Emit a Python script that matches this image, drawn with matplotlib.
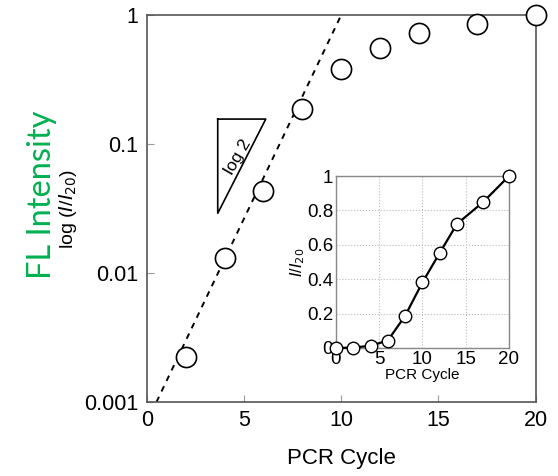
import numpy as np
import matplotlib
matplotlib.use("Agg")
import matplotlib.pyplot as plt
from matplotlib.ticker import FixedLocator, NullLocator

plt.rcParams['font.family'] = ['Liberation Sans', 'DejaVu Sans']

# data
cycle = [2, 4, 6, 8, 10, 12, 14, 17, 20]
rel_int = [0.00223, 0.0131, 0.0432, 0.187, 0.381, 0.558, 0.722, 0.848, 1.0]
inset_cycle = [0, 2, 4, 6, 8, 10, 12, 14, 17, 20]
inset_int = [0.0, 0.002, 0.013, 0.043, 0.187, 0.381, 0.553, 0.722, 0.848, 1.0]

# exponential fit (doubling per cycle), end points of dashed line
fit_x = [0.5, 10.0]
fit_y = [0.001, 1.0]

# slope triangle corners
tri_x = [3.65, 6.12, 3.65, 3.65]
tri_y = [0.156, 0.156, 0.029, 0.156]

spine_col = '#555555'

fig = plt.figure(figsize=(5.58, 4.76), dpi=100)
ax = fig.add_axes([0.263, 0.1555, 0.697, 0.813])
ax.set_yscale('log')
ax.set_xlim(0, 20)
ax.set_ylim(0.001, 1)

ax.plot(fit_x, fit_y, ls=(0, (3, 3)), color='black', lw=1.4, zorder=2)
ax.plot(cycle, rel_int, 'o', ms=14.5, mfc='white', mec='black', mew=1.2,
        clip_on=False, zorder=3)
ax.plot(tri_x, tri_y, color='black', lw=1.2)
ax.text(4.68, 0.08, 'log 2', rotation=60, fontsize=12.5, ha='center', va='center',
        rotation_mode='anchor')

ax.xaxis.set_major_locator(FixedLocator([0, 5, 10, 15, 20]))
ax.yaxis.set_major_locator(FixedLocator([0.001, 0.01, 0.1, 1]))
ax.yaxis.set_minor_locator(NullLocator())
ax.set_yticklabels(['0.001', '0.01', '0.1', '1'])
ax.tick_params(direction='in', length=5, width=0.8, color='#999999',
               labelsize=15.5, pad=6)
for s in ax.spines.values():
    s.set_color(spine_col)
    s.set_linewidth(1.2)

ax.set_xlabel('PCR Cycle', fontsize=16, labelpad=12)
ax.set_ylabel(r'log ($I$/$I_{20}$)', fontsize=14, labelpad=4)
fig.text(0.075, 0.59, 'FL Intensity', rotation=90, color='#00b050',
         fontsize=23.5, family=['Lato', 'DejaVu Sans'], ha='center', va='center')

# inset linear plot
ins = fig.add_axes([0.602, 0.269, 0.310, 0.361])
ins.set_xlim(0, 20)
ins.set_ylim(0, 1)
ins.grid(True, ls=':', color='#bbbbbb', lw=0.8)
ins.plot(inset_cycle, inset_int, '-o', color='black', lw=1.6, ms=9,
         mfc='white', mec='black', mew=1.0, clip_on=False, zorder=3)
ins.xaxis.set_major_locator(FixedLocator([0, 5, 10, 15, 20]))
ins.yaxis.set_major_locator(FixedLocator([0, 0.2, 0.4, 0.6, 0.8, 1]))
ins.set_yticklabels(['0', '0.2', '0.4', '0.6', '0.8', '1'])
ins.tick_params(length=0, labelsize=13.5, pad=2)
for s in ins.spines.values():
    s.set_color('#888888')
    s.set_linewidth(1.0)
ins.set_xlabel('PCR Cycle', fontsize=11, labelpad=0)
ins.set_ylabel(r'$I$/$I_{20}$', fontsize=11.5, labelpad=0)

fig.savefig('out.png', dpi=100)
